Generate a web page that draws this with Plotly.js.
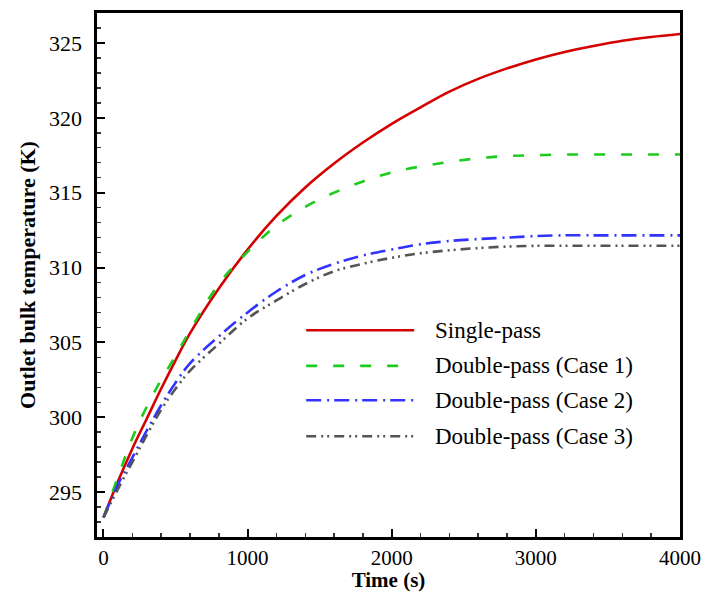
<!DOCTYPE html>
<html>
<head>
<meta charset="utf-8">
<script src="https://cdn.plot.ly/plotly-3.0.1.min.js"></script>
<style>html,body{margin:0;padding:0;background:#fff}#chart{width:707px;height:592px}</style>
</head>
<body>
<div id="chart"></div>
<script>
// Time (s)
const time = [0, 100, 200, 300, 400, 500, 600, 800, 1000, 1200, 1400, 1600, 1800, 2000, 2200, 2400, 2600, 2800, 3000, 3200, 3400, 3600, 3800, 4000];
// Outlet bulk temperature (K)
const singlePass = [293.3, 295.7, 297.9, 299.9, 301.9, 303.8, 305.6, 308.6, 311.2, 313.45, 315.35, 316.95, 318.35, 319.6, 320.7, 321.75, 322.6, 323.3, 323.9, 324.4, 324.8, 325.15, 325.4, 325.6];
const doubleCase1 = [293.3, 296.0, 298.6, 300.7, 302.5, 304.1, 305.8, 308.9, 311.05, 312.8, 314.05, 315.0, 315.75, 316.35, 316.75, 317.05, 317.3, 317.45, 317.5, 317.55, 317.55, 317.55, 317.55, 317.55];
const doubleCase2 = [293.3, 295.5, 297.3, 299.1, 300.8, 302.3, 303.6, 305.4, 307.0, 308.4, 309.5, 310.25, 310.8, 311.2, 311.55, 311.77, 311.9, 312.0, 312.1, 312.15, 312.15, 312.15, 312.15, 312.15];
const doubleCase3 = [293.3, 295.2, 297.0, 298.8, 300.5, 301.9, 303.1, 304.9, 306.6, 307.8, 308.9, 309.75, 310.25, 310.65, 310.95, 311.15, 311.3, 311.4, 311.45, 311.45, 311.45, 311.45, 311.45, 311.45];

const seriesNames = ["Single-pass", "Double-pass (Case 1)", "Double-pass (Case 2)", "Double-pass (Case 3)"];
const seriesValues = [singlePass, doubleCase1, doubleCase2, doubleCase3];
const seriesColors = ["#d40000", "#1ccc1c", "#3333ff", "#555555"];
const seriesDash = ["solid", "11px,16px", "15px,6px,2px,5px", "10px,5px,2px,4px,2px,5px"];

const FAM = "Liberation Serif, Times New Roman, Times, serif";
function mkFont(size) { return {family: FAM, size: size, color: "#000"}; }

const traces = seriesValues.map((v, i) => ({
  x: time, y: v, name: seriesNames[i], type: "scatter", mode: "lines",
  line: {color: seriesColors[i], width: 2.6, dash: seriesDash[i], shape: "spline", smoothing: 1},
  showlegend: false
}));

// legend drawn as layout shapes + annotations (paper coordinates)
const legRowY = [0.3947, 0.3265, 0.2609, 0.1923];
const shapes = [], annotations = [];
seriesNames.forEach((n, i) => {
  shapes.push({type: "line", xref: "paper", yref: "paper", x0: 0.3588, x1: 0.544, y0: legRowY[i], y1: legRowY[i],
    line: {color: seriesColors[i], width: 2.6, dash: seriesDash[i]}});
  annotations.push({xref: "paper", yref: "paper", x: 0.5766, y: legRowY[i], xanchor: "left", yanchor: "middle",
    text: n, showarrow: false, font: mkFont(23)});
});

const layout = {
  width: 707, height: 592,
  margin: {l: 97, r: 27, t: 13, b: 55},
  paper_bgcolor: "#fff", plot_bgcolor: "#fff",
  font: mkFont(21),
  xaxis: {
    range: [-45, 4000], tickvals: [0, 1000, 2000, 3000, 4000], ticktext: ["0", "1000", "2000", "3000", "4000"],
    ticks: "inside", ticklen: 8, tickwidth: 2, tickcolor: "#000",
    minor: {dtick: 200, ticks: "inside", ticklen: 4, tickwidth: 1.5, tickcolor: "#333", showgrid: false},
    showline: true, linewidth: 2.6, linecolor: "#000", mirror: true,
    showgrid: false, zeroline: false, tickfont: mkFont(21), ticklabelstandoff: 0,
    title: {text: "<b>Time (s)</b>", font: mkFont(21), standoff: 3}
  },
  yaxis: {
    range: [292, 327], tickvals: [295, 300, 305, 310, 315, 320, 325],
    ticks: "inside", ticklen: 8, tickwidth: 2, tickcolor: "#000",
    minor: {dtick: 1, ticks: "inside", ticklen: 4, tickwidth: 1.5, tickcolor: "#333", showgrid: false},
    showline: true, linewidth: 2.6, linecolor: "#000", mirror: true,
    showgrid: false, zeroline: false, tickfont: mkFont(22), ticklabelstandoff: 8,
    title: {text: "<b>Outlet bulk temperature (K)</b>", font: mkFont(22), standoff: 8}
  },
  shapes: shapes,
  annotations: annotations,
  showlegend: false
};

Plotly.newPlot("chart", traces, layout, {displayModeBar: false, staticPlot: true});
</script>
</body>
</html>
